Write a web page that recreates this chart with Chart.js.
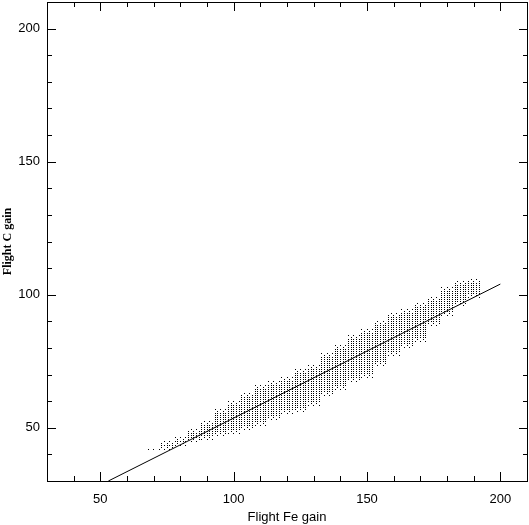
<!DOCTYPE html>
<html>
<head>
<meta charset="utf-8">
<script src="https://cdn.jsdelivr.net/npm/chart.js@4"></script>
<style>
  html, body { margin: 0; padding: 0; background: #fff; }
  #wrap { width: 529px; height: 525px; }
</style>
</head>
<body>
<div id="wrap"><canvas id="gainChart"></canvas></div>
<script>
// axis ticks
const xTicks = [50, 100, 150, 200];
const yTicks = [50, 100, 150, 200];
const minorStep = 10;

// cloud of gain points, read per 5-unit bin of Fe gain: lower / upper C gain
const binX  = [70, 75, 80, 85, 90, 95, 100, 105, 110, 115, 120, 125, 130, 135, 140, 145, 150, 155, 160, 165, 170, 175, 180, 185, 190];
const binLo = [42, 42, 43.5, 45, 45.5, 47, 48, 49.5, 50.5, 53, 55, 56, 58, 62, 64, 67, 69, 73, 77, 80, 82, 88, 92, 96, 99];
const binHi = [42.5, 45, 47, 50, 53, 57, 60, 63, 66, 68, 69, 72, 74, 78, 81, 85, 87, 90, 93, 95, 97, 99, 103, 105, 106];
const yStep = 0.75;

// fitted line
const fitX = [53, 200];
const fitY = [30, 104];

// build the grid of points from the bins
var cloud = [];
binX.forEach(function (cx, b) {
  for (var x = cx - 2; x <= cx + 2; x++) {
    var rows = [];
    for (var y = Math.ceil(binLo[b] / yStep) * yStep; y <= binHi[b]; y += yStep) rows.push(y);
    rows.forEach(function (y, r) {
      var edge = r < 2 || r > rows.length - 3;
      if (!edge || (x + r) % 2 === 0) cloud.push({ x: x, y: y });
    });
  }
});

var dot = document.createElement('canvas');
dot.width = 1; dot.height = 1;
var dctx = dot.getContext('2d');
dctx.fillStyle = '#000';
dctx.fillRect(0, 0, 1, 1);

// frame and inward ticks on all four sides
const framePlugin = {
  id: 'frame',
  beforeDatasetsDraw: function (chart) {
    chart.ctx.imageSmoothingEnabled = false;
  },
  afterDraw: function (chart) {
    var ctx = chart.ctx, a = chart.chartArea;
    var xs = chart.scales.x, ys = chart.scales.y;
    ctx.save();
    ctx.strokeStyle = '#000';
    ctx.lineWidth = 1;
    ctx.strokeRect(a.left + 0.5, a.top + 0.5, a.right - a.left, a.bottom - a.top);
    ctx.beginPath();
    for (var v = 40; v <= 200; v += minorStep) {
      var len = v % 50 === 0 ? 9 : 5;
      var px = Math.round(xs.getPixelForValue(v)) + 0.5;
      ctx.moveTo(px, a.bottom); ctx.lineTo(px, a.bottom - len);
      ctx.moveTo(px, a.top); ctx.lineTo(px, a.top + len);
      var py = Math.round(ys.getPixelForValue(v)) + 0.5;
      ctx.moveTo(a.left, py); ctx.lineTo(a.left + len, py);
      ctx.moveTo(a.right + 1, py); ctx.lineTo(a.right + 1 - len, py);
    }
    ctx.stroke();
    ctx.restore();
  }
};

function noEdgePadding(s) {
  s.paddingTop = 0; s.paddingBottom = 0;
  s.paddingLeft = 0; s.paddingRight = 0;
}

const ctx = document.getElementById('gainChart').getContext('2d');

new Chart(ctx, {
  type: 'scatter',
  data: {
    datasets: [{
      label: 'gain',
      data: cloud,
      pointStyle: dot,
      pointRadius: 1,
      pointHoverRadius: 1
    }, {
      type: 'line',
      label: 'fit',
      data: fitX.map(function (x, i) { return { x: x, y: fitY[i] }; }),
      borderColor: '#000',
      borderWidth: 1,
      pointRadius: 0,
      fill: false
    }]
  },
  options: {
    responsive: true,
    maintainAspectRatio: false,
    animation: false,
    layout: { padding: { top: 0, right: 1, bottom: 0, left: 0 } },
    plugins: {
      legend: { display: false },
      tooltip: { enabled: false }
    },
    scales: {
      x: {
        type: 'linear',
        min: 30,
        max: 210,
        grid: { display: false, drawTicks: false },
        border: { display: false },
        afterBuildTicks: function (s) { s.ticks = xTicks.map(function (v) { return { value: v }; }); },
        afterFit: function (s) { s.height = 44; noEdgePadding(s); },
        ticks: {
          color: '#000',
          padding: 11,
          maxRotation: 0,
          font: { family: 'Liberation Sans', size: 13 }
        },
        title: {
          display: true,
          text: 'Flight Fe gain',
          color: '#000',
          padding: { top: 0, bottom: 0 },
          font: { family: 'Liberation Sans', size: 13 }
        }
      },
      y: {
        type: 'linear',
        min: 30,
        max: 210,
        grid: { display: false, drawTicks: false },
        border: { display: false },
        afterBuildTicks: function (s) { s.ticks = yTicks.map(function (v) { return { value: v }; }); },
        afterFit: function (s) { s.width = 47; noEdgePadding(s); },
        ticks: {
          color: '#000',
          padding: 7,
          font: { family: 'Liberation Sans', size: 13 }
        },
        title: {
          display: true,
          text: 'Flight C gain',
          color: '#000',
          padding: { top: 1, bottom: 0 },
          font: { family: 'Liberation Serif', size: 12, weight: 'bold' }
        }
      }
    }
  },
  plugins: [framePlugin]
});
</script>
</body>
</html>
